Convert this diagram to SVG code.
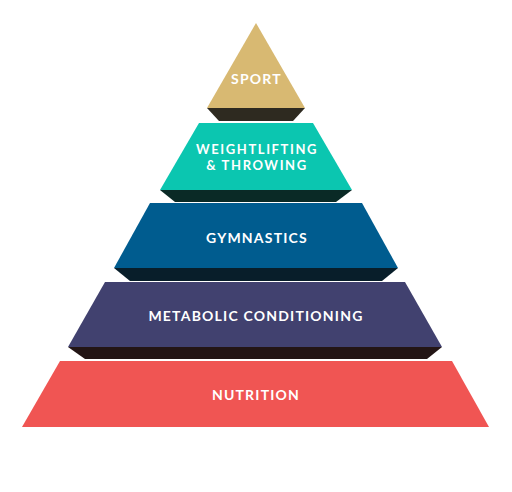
<svg xmlns="http://www.w3.org/2000/svg" width="512" height="492" viewBox="0 0 512 492">
<style>
.lbl{font-family:Lato,"Open Sans","Liberation Sans",sans-serif;font-weight:700;font-size:14px;fill:#ffffff;text-anchor:middle;letter-spacing:1.2px}
.sm{font-size:13px;letter-spacing:1.6px}
</style>
<rect width="512" height="492" fill="#ffffff"/>
<g id="sport">
<polygon points="207,108 305,108 293,121 219,121" fill="#2e2a20"/>
<polygon points="256,23 305,108 207,108" fill="#d8b972"/>
<text class="lbl" x="256.5" y="83.5">SPORT</text>
</g>
<g id="weightlifting">
<polygon points="160,190 352,190 336,202 175,202" fill="#0a2a26"/>
<polygon points="199,123 313,123 352,190 160,190" fill="#0bc6b0"/>
<text class="lbl sm" x="257" y="153.5">WEIGHTLIFTING</text>
<text class="lbl sm" x="257" y="169.5">&amp; THROWING</text>
</g>
<g id="gymnastics">
<polygon points="114,268 398,268 382,281 130,281" fill="#081e2a"/>
<polygon points="150,203 362,203 398,268 114,268" fill="#005c8f"/>
<text class="lbl" x="257" y="242.5">GYMNASTICS</text>
</g>
<g id="metcon">
<polygon points="68,347 442,347 427,359 85,359" fill="#231515"/>
<polygon points="105,282 405,282 442,347 68,347" fill="#41416f"/>
<text class="lbl" x="256" y="320.5">METABOLIC CONDITIONING</text>
</g>
<g id="nutrition">
<polygon points="60,361 452,361 489,427 22,427" fill="#f05553"/>
<text class="lbl" x="256" y="399.5">NUTRITION</text>
</g>
</svg>
